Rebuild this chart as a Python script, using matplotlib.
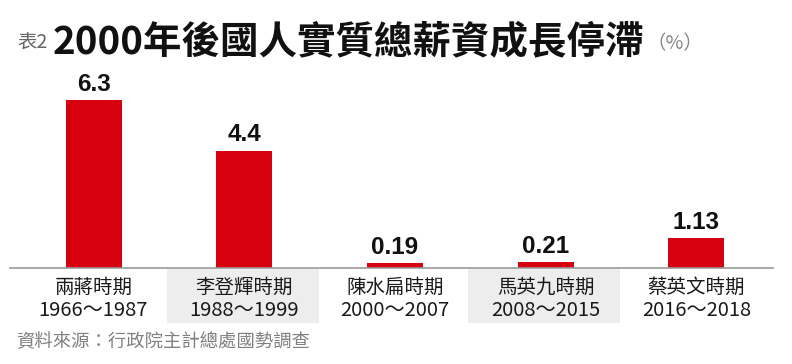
import matplotlib
matplotlib.use("Agg")
import matplotlib.pyplot as plt
from matplotlib.patches import Rectangle
from matplotlib.transforms import blended_transform_factory

plt.rcParams['font.family'] = ['Noto Sans CJK TC', 'DejaVu Sans']

# data
periods = ["兩蔣時期", "李登輝時期", "陳水扁時期", "馬英九時期", "蔡英文時期"]
years = ["1966～1987", "1988～1999", "2000～2007", "2008～2015", "2016～2018"]
growth = [6.3, 4.4, 0.19, 0.21, 1.13]
value_labels = ["6.3", "4.4", "0.19", "0.21", "1.13"]

W, H = 792, 364
fig = plt.figure(figsize=(W / 100, H / 100), dpi=100)


def px(x, y):
    # pixel coords (from top-left) -> figure fraction
    return x / W, 1 - y / H


# axes: spine from x=10 to 773 px, baseline at y=268 px
left, right = 10, 773
base, top = 268, 60
ax = fig.add_axes([left / W, 1 - base / H, (right - left) / W, (base - top) / H])
ax.patch.set_visible(False)

step = 150.7
c0 = 93.5
ax.set_xlim(-(c0 - left) / step, (right - c0) / step)
ax.set_ylim(0, (base - top) / 26.7)

xs = list(range(len(growth)))
ax.bar(xs, growth, width=56 / step, color="#d7000f")
for x, v, lab in zip(xs, growth, value_labels):
    ax.annotate(lab, (x, v), xytext=(0, 3), textcoords="offset points",
                ha="center", va="bottom", fontsize=17.5, fontweight="bold",
                family="Liberation Sans", color="#111111")

for s in ["top", "left", "right"]:
    ax.spines[s].set_visible(False)
ax.spines["bottom"].set_color("#999999")
ax.spines["bottom"].set_linewidth(1.2)
ax.set_xticks([])
ax.set_yticks([])

# shaded label boxes for alternate categories
for i in [1, 3]:
    x0 = 167 + (i - 1) * step
    fx, fy = px(x0, 323)
    fig.patches.append(Rectangle((fx, fy), 152 / W, 54 / H, transform=fig.transFigure,
                                 facecolor="#ededed", edgecolor="none", zorder=-1))

trans = blended_transform_factory(ax.transData, fig.transFigure)
for x, p, yr in zip(xs, periods, years):
    ax.text(x, px(0, 287)[1], p, transform=trans, ha="center", va="center",
            fontsize=14, color="#1a1a1a", clip_on=False)
    ax.text(x, px(0, 311)[1], yr, transform=trans, ha="center", va="center",
            fontsize=14.5, color="#1a1a1a", clip_on=False)

# title
fig.text(*px(17, 43), "表2", fontsize=14, color="#666666", ha="left", va="center")
fig.text(*px(53, 42), "2000年後國人實質總薪資成長停滯", fontsize=27.7, fontweight="bold",
         color="#111111", ha="left", va="center")
fig.text(*px(646, 44), "（%）", fontsize=14, color="#888888", ha="left", va="center")

# source
fig.text(*px(16, 342), "資料來源：行政院主計總處國勢調查", fontsize=13.2, color="#808080",
         ha="left", va="center")

fig.savefig("out.png", dpi=100)
